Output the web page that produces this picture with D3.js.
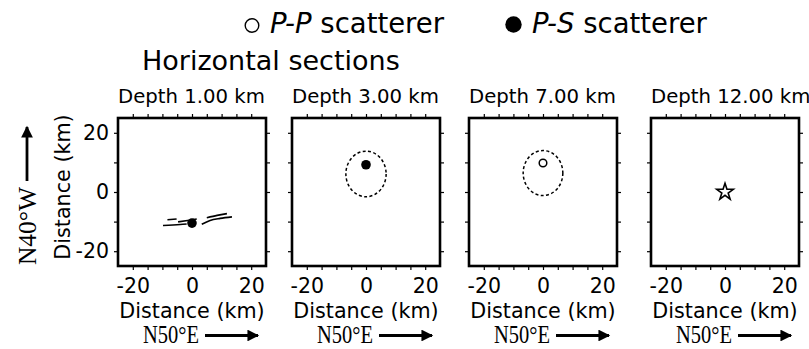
<!DOCTYPE html>
<html>
<head>
<meta charset="utf-8">
<script src="https://cdn.jsdelivr.net/npm/d3@7"></script>
<style>
  html, body { margin: 0; padding: 0; background: #fff; }
  svg { display: block; }
  text { fill: #000; }
</style>
</head>
<body>
<svg id="chart" width="809" height="349"></svg>
<script>
// Horizontal sections at four depths
const depths = [1, 3, 7, 12];
const depthTitles = ["Depth 1.00 km", "Depth 3.00 km", "Depth 7.00 km", "Depth 12.00 km"];
const axisDomain = [-25, 25];
const xTickValues = [-20, -15, -10, -5, 0, 5, 10, 15, 20];
const yTickValues = [-20, -10, 0, 10, 20];
const labelledTicks = [-20, 0, 20];

// P-P scatterers (open circles), P-S scatterers (filled), km
const ppDepth = [7];
const ppX = [0];
const ppY = [9.8];
const psDepth = [1, 3];
const psX = [0, 0];
const psY = [-10.5, 9.2];

// Error ellipses around scatterers (km)
const ellDepth = [3, 7];
const ellCx = [0, 0];
const ellCy = [6.1, 6.4];
const ellRx = [6.8, 6.7];
const ellRy = [7.7, 7.6];

// Hypocenter (star)
const hypoDepth = [12];
const hypoX = [0];
const hypoY = [0];

// Surface fault traces at 1 km depth (km)
const faultDepth = 1;
const faultTraces = [
  [[-9.8, -11.3], [-4.0, -11.0], [-1.8, -10.8]],
  [[-8.3, -9.4], [-5.2, -9.1]],
  [[-4.7, -10.1], [-1.5, -9.6], [1.6, -9.1]],
  [[3.3, -10.9], [6.1, -9.6], [9.5, -8.9], [13.5, -8.4]],
  [[5.0, -8.7], [8.5, -7.9], [11.8, -7.3]]
];

const svg = d3.select("#chart");
const SANS = "DejaVu Sans, Verdana, sans-serif";
const SERIF = "Liberation Serif, Times New Roman, serif";

const panelLeft = [118, 292, 469, 651];
const panelTop = 118;
const size = 148;

// Legend
const legend = svg.append("g");
legend.append("circle").attr("cx", 252).attr("cy", 25.5).attr("r", 6.8)
  .attr("fill", "none").attr("stroke", "#000").attr("stroke-width", 1.4);
const l1 = legend.append("text").attr("x", 270).attr("y", 33)
  .style("font-family", SANS).style("font-size", "27.5px");
l1.append("tspan").style("font-style", "italic").text("P-P");
l1.append("tspan").text(" scatterer");
legend.append("circle").attr("cx", 513.5).attr("cy", 24.5).attr("r", 8.2).attr("fill", "#000");
const l2 = legend.append("text").attr("x", 532).attr("y", 33)
  .style("font-family", SANS).style("font-size", "27.5px");
l2.append("tspan").style("font-style", "italic").text("P-S");
l2.append("tspan").text(" scatterer");

svg.append("text").attr("x", 142).attr("y", 69.5)
  .style("font-family", SANS).style("font-size", "27px")
  .text("Horizontal sections");

// Arrow marker
const defs = svg.append("defs");
defs.append("marker").attr("id", "arrowHead")
  .attr("viewBox", "0 0 10 10").attr("refX", 9).attr("refY", 5)
  .attr("markerWidth", 4.6).attr("markerHeight", 4.2)
  .attr("markerUnits", "strokeWidth").attr("orient", "auto")
  .append("path").attr("d", "M0,0 L10,5 L0,10 Z").attr("fill", "#000");

depths.forEach((depth, i) => {
  const left = panelLeft[i];
  const x = d3.scaleLinear().domain(axisDomain).range([left, left + size]);
  const y = d3.scaleLinear().domain(axisDomain).range([panelTop + size, panelTop]);
  const g = svg.append("g");

  // Title
  g.append("text").attr("x", left).attr("y", 103)
    .style("font-family", SANS).style("font-size", "19.7px")
    .text(depthTitles[i]);

  const fmt = d => labelledTicks.includes(d) ? String(d).replace("\u2212", "-") : "";

  const bottom = g.append("g").attr("transform", `translate(0,${panelTop + size})`)
    .call(d3.axisBottom(x).tickValues(xTickValues).tickSize(4).tickPadding(8).tickFormat(fmt));
  const top = g.append("g").attr("transform", `translate(0,${panelTop})`)
    .call(d3.axisTop(x).tickValues(xTickValues).tickSize(4).tickFormat(""));
  const leftAx = g.append("g").attr("transform", `translate(${left},0)`)
    .call(d3.axisLeft(y).tickValues(yTickValues).tickSize(4).tickPadding(5)
      .tickFormat(i === 0 ? fmt : ""));
  const rightAx = g.append("g").attr("transform", `translate(${left + size},0)`)
    .call(d3.axisRight(y).tickValues(yTickValues).tickSize(4).tickFormat(""));

  [bottom, top, leftAx, rightAx].forEach(ax => {
    ax.select(".domain").remove();
    ax.selectAll(".tick line").attr("stroke", "#000").attr("stroke-width", 1.2);
    ax.selectAll(".tick text").style("font-family", SANS).style("font-size", "20.5px").attr("fill", "#000");
  });
  bottom.selectAll(".tick text").attr("dy", "0.71em");

  // Fault traces
  if (depth === faultDepth) {
    const line = d3.line().x(d => x(d[0])).y(d => y(d[1])).curve(d3.curveMonotoneX);
    g.selectAll(".fault").data(faultTraces).join("path")
      .attr("d", line).attr("fill", "none").attr("stroke", "#000").attr("stroke-width", 1.6);
  }

  // Ellipses
  ellDepth.forEach((d, k) => {
    if (d !== depth) return;
    g.append("ellipse")
      .attr("cx", x(ellCx[k])).attr("cy", y(ellCy[k]))
      .attr("rx", x(ellRx[k]) - x(0)).attr("ry", y(0) - y(ellRy[k]))
      .attr("fill", "none").attr("stroke", "#000").attr("stroke-width", 1.5)
      .attr("stroke-dasharray", "3,2.4");
  });

  // Scatterers
  ppDepth.forEach((d, k) => {
    if (d !== depth) return;
    g.append("circle").attr("cx", x(ppX[k])).attr("cy", y(ppY[k])).attr("r", 3.8)
      .attr("fill", "#fff").attr("stroke", "#000").attr("stroke-width", 1.5);
  });
  psDepth.forEach((d, k) => {
    if (d !== depth) return;
    g.append("circle").attr("cx", x(psX[k])).attr("cy", y(psY[k])).attr("r", 4.8)
      .attr("fill", "#000");
  });

  // Hypocenter
  hypoDepth.forEach((d, k) => {
    if (d !== depth) return;
    g.append("path")
      .attr("d", d3.symbol(d3.symbolStar, 85)())
      .attr("transform", `translate(${x(hypoX[k])},${y(hypoY[k])})`)
      .attr("fill", "#fff").attr("stroke", "#000").attr("stroke-width", 1.6);
  });

  // Frame
  g.append("rect").attr("x", left).attr("y", panelTop).attr("width", size).attr("height", size)
    .attr("fill", "none").attr("stroke", "#000").attr("stroke-width", 2.6);

  // X axis label and direction
  g.append("text").attr("x", left + size / 2).attr("y", 318).attr("text-anchor", "middle")
    .style("font-family", SANS).style("font-size", "20.7px").text("Distance (km)");
  g.append("text").attr("x", left + 25).attr("y", 342.5)
    .attr("textLength", 56).attr("lengthAdjust", "spacingAndGlyphs")
    .style("font-family", SERIF).style("font-size", "25px").text("N50\u00B0E");
  g.append("line").attr("x1", left + 87).attr("x2", left + 140)
    .attr("y1", 335.5).attr("y2", 335.5)
    .attr("stroke", "#000").attr("stroke-width", 2.8).attr("marker-end", "url(#arrowHead)");
});

// Y axis label and direction (first panel)
svg.append("text")
  .attr("transform", `translate(70,187) rotate(-90)`)
  .attr("text-anchor", "middle")
  .style("font-family", SANS).style("font-size", "20.7px").text("Distance (km)");
svg.append("text")
  .attr("transform", `translate(36,265) rotate(-90)`)
  .attr("textLength", 78).attr("lengthAdjust", "spacingAndGlyphs")
  .style("font-family", SERIF).style("font-size", "26px").text("N40\u00B0W");
svg.append("line").attr("x1", 27).attr("x2", 27).attr("y1", 181).attr("y2", 127)
  .attr("stroke", "#000").attr("stroke-width", 2.8).attr("marker-end", "url(#arrowHead)");
</script>
</body>
</html>
